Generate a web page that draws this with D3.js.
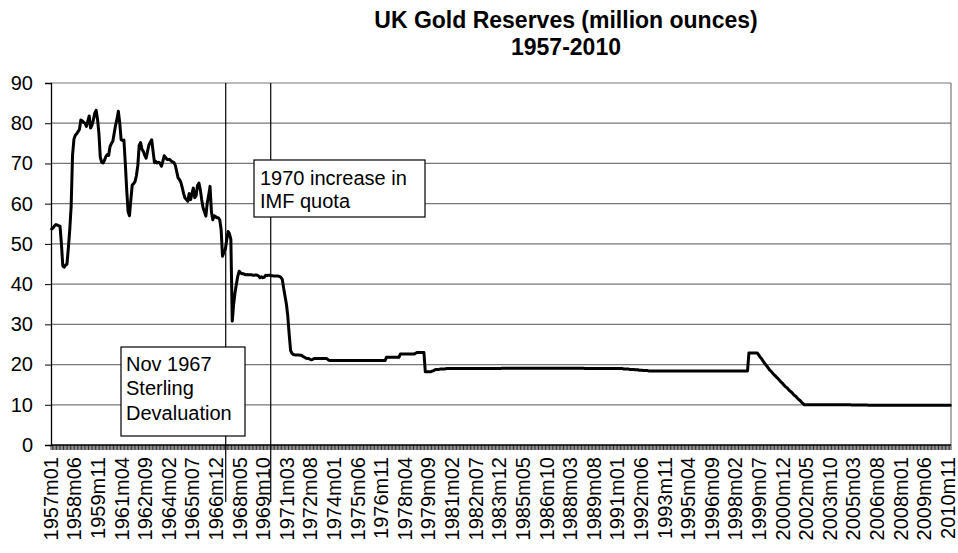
<!DOCTYPE html>
<html>
<head>
<meta charset="utf-8">
<script src="https://cdn.jsdelivr.net/npm/d3@7"></script>
<style>
  html, body { margin: 0; padding: 0; background: #fff; }
  svg { display: block; font-family: "Liberation Sans", Arial, sans-serif; }
</style>
</head>
<body>
<svg id="chart" width="958" height="553"></svg>
<script>
// ---------------- DATA ----------------
const titleLines = ["UK Gold Reserves (million ounces)", "1957-2010"];
const startYear = 1957;
// Monthly UK gold reserves (million oz), 1957m01 .. 2010m12, one row per year
const reserves = [
  53.7,54.0,54.5,54.8,54.7,54.5,54.4,50.0,44.5,44.2,44.7,45.0, // 1957
  49.0,53.5,59.3,72.0,76.0,77.0,77.4,77.9,78.5,80.8,80.6,80.2, // 1958
  80.0,79.2,80.5,81.8,78.8,79.5,80.8,82.5,83.2,81.0,77.5,71.5, // 1959
  70.3,70.1,70.8,71.7,72.2,72.0,74.2,75.0,75.5,77.5,79.5,81.0, // 1960
  83.0,80.0,75.9,75.7,75.8,70.0,63.5,58.0,57.0,61.0,64.7,65.0, // 1961
  65.5,67.0,69.5,74.5,75.2,73.5,73.0,72.0,71.3,73.0,74.6,75.3, // 1962
  75.9,73.0,70.2,70.5,70.1,70.3,70.1,69.3,70.5,71.9,71.5,71.0, // 1963
  71.0,71.0,70.6,70.4,70.2,69.5,68.0,66.4,66.0,65.3,64.0,62.5, // 1964
  61.4,61.0,60.6,62.5,61.0,62.5,63.9,61.5,62.0,64.5,65.1,63.5, // 1965
  61.0,59.0,58.0,56.9,60.2,62.0,64.3,58.0,56.0,57.0,56.8,56.5, // 1966
  56.5,56.0,53.5,46.9,48.0,48.6,51.0,53.1,52.5,51.1,30.8,35.0, // 1967
  37.9,40.0,42.0,43.2,42.8,42.6,42.6,42.4,42.3,42.4,42.3,42.3, // 1968
  42.3,42.2,42.2,42.3,42.2,42.0,41.6,41.8,41.6,41.7,42.2,42.1, // 1969
  42.2,42.2,42.1,42.1,42.0,42.0,42.0,42.0,41.9,41.7,41.2,39.0, // 1970
  37.0,35.0,32.0,27.5,23.5,22.8,22.5,22.4,22.4,22.4,22.4,22.3, // 1971
  22.3,22.0,21.8,21.6,21.5,21.5,21.3,21.2,21.3,21.5,21.5,21.5, // 1972
  21.5,21.5,21.5,21.5,21.5,21.5,21.5,21.2,21.0,21.0,21.0,21.0, // 1973
  21.0,21.0,21.0,21.0,21.0,21.0,21.0,21.0,21.0,21.0,21.0,21.0, // 1974
  21.0,21.0,21.0,21.0,21.0,21.0,21.0,21.0,21.0,21.0,21.0,21.0, // 1975
  21.0,21.0,21.0,21.0,21.0,21.0,21.0,21.0,21.0,21.0,21.0,21.0, // 1976
  21.0,21.8,21.8,21.8,21.8,21.8,21.8,21.8,21.8,21.8,21.8,22.6, // 1977
  22.6,22.6,22.6,22.6,22.6,22.6,22.6,22.6,22.6,22.6,22.8,23.0, // 1978
  23.0,23.0,23.0,23.0,23.0,18.2,18.2,18.2,18.2,18.2,18.4,18.5, // 1979
  18.7,18.8,18.8,18.8,18.9,18.9,18.9,18.9,19.0,19.0,19.0,19.0, // 1980
  19.0,19.0,19.0,19.0,19.0,19.0,19.0,19.0,19.0,19.0,19.0,19.0, // 1981
  19.0,19.0,19.0,19.0,19.0,19.0,19.0,19.0,19.0,19.0,19.0,19.0, // 1982
  19.0,19.0,19.0,19.0,19.0,19.0,19.0,19.0,19.0,19.0,19.0,19.0, // 1983
  19.1,19.1,19.1,19.1,19.1,19.1,19.1,19.1,19.1,19.1,19.1,19.1, // 1984
  19.1,19.1,19.1,19.1,19.1,19.1,19.1,19.1,19.1,19.1,19.1,19.1, // 1985
  19.1,19.1,19.1,19.1,19.1,19.1,19.1,19.1,19.1,19.1,19.1,19.1, // 1986
  19.1,19.1,19.1,19.1,19.1,19.1,19.1,19.1,19.1,19.1,19.1,19.1, // 1987
  19.1,19.1,19.1,19.1,19.1,19.1,19.1,19.1,19.1,19.1,19.1,19.1, // 1988
  19.0,19.0,19.0,19.0,19.0,19.0,19.0,19.0,19.0,19.0,19.0,19.0, // 1989
  19.0,19.0,19.0,19.0,19.0,19.0,19.0,19.0,19.0,19.0,19.0,19.0, // 1990
  19.0,19.0,19.0,19.0,18.9,18.9,18.9,18.9,18.8,18.8,18.8,18.8, // 1991
  18.7,18.7,18.7,18.6,18.6,18.6,18.5,18.5,18.5,18.5,18.4,18.4, // 1992
  18.4,18.4,18.4,18.4,18.4,18.4,18.4,18.4,18.4,18.4,18.4,18.4, // 1993
  18.4,18.4,18.4,18.4,18.4,18.4,18.4,18.4,18.4,18.4,18.4,18.4, // 1994
  18.4,18.4,18.4,18.4,18.4,18.4,18.4,18.4,18.4,18.4,18.4,18.4, // 1995
  18.4,18.4,18.4,18.4,18.4,18.4,18.4,18.4,18.4,18.4,18.4,18.4, // 1996
  18.4,18.4,18.4,18.4,18.4,18.4,18.4,18.4,18.4,18.4,18.4,18.4, // 1997
  18.4,18.4,18.4,18.4,18.4,18.4,18.4,18.4,18.4,18.4,22.9,22.9, // 1998
  22.9,22.9,22.9,22.9,22.9,22.4,21.9,21.5,21.0,20.5,20.0,19.6, // 1999
  19.1,18.6,18.3,17.9,17.5,17.2,16.8,16.5,16.1,15.7,15.4,15.0, // 2000
  14.6,14.3,14.0,13.6,13.3,13.0,12.6,12.3,12.0,11.6,11.3,11.0, // 2001
  10.6,10.3,10.0,10.0,10.0,10.0,10.0,10.0,10.0,10.0,10.0,10.0, // 2002
  10.0,10.0,10.0,10.0,10.0,10.0,10.0,10.0,10.0,10.0,10.0,10.0, // 2003
  10.0,10.0,10.0,10.0,10.0,10.0,10.0,10.0,10.0,10.0,10.0,10.0, // 2004
  9.95,9.95,9.95,9.95,9.95,9.95,9.95,9.95,9.95,9.95,9.95,9.95, // 2005
  9.9,9.9,9.9,9.9,9.9,9.9,9.9,9.9,9.9,9.9,9.9,9.9,             // 2006
  9.9,9.9,9.9,9.9,9.9,9.9,9.9,9.9,9.9,9.9,9.9,9.9,             // 2007
  9.9,9.9,9.9,9.9,9.9,9.9,9.9,9.9,9.9,9.9,9.9,9.9,             // 2008
  9.9,9.9,9.9,9.9,9.9,9.9,9.9,9.9,9.9,9.9,9.9,9.9,             // 2009
  9.9,9.9,9.9,9.9,9.9,9.9,9.9,9.9,9.9,9.9,9.9,9.9              // 2010
];
const yTicks = [0,10,20,30,40,50,60,70,80,90];
const tickLabels = ["1957m01","1958m06","1959m11","1961m04","1962m09","1964m02","1965m07",
  "1966m12","1968m05","1969m10","1971m03","1972m08","1974m01","1975m06","1976m11","1978m04",
  "1979m09","1981m02","1982m07","1983m12","1985m05","1986m10","1988m03","1989m08","1991m01",
  "1992m06","1993m11","1995m04","1996m09","1998m02","1999m07","2000m12","2002m05","2003m10",
  "2005m03","2006m08","2008m01","2009m06","2010m11"];
// annotation markers (position in months from 1957m01) and their text
const annotLines = [125.3, 157.7];
const annotTexts = [["Nov 1967","Sterling","Devaluation"], ["1970 increase in","IMF quota"]];

// ---------------- LAYOUT ----------------
const months = reserves.map((_, i) => {
  const yr = startYear + Math.floor(i / 12), m = (i % 12) + 1;
  return yr + "m" + (m < 10 ? "0" + m : m);
});
const L = 51, R = 951, T = 83, B = 445;
const svg = d3.select("#chart");
const x = d3.scaleLinear().domain([0, months.length]).range([L, R]);
const y = d3.scaleLinear().domain([0, 90]).range([B, T]);
const font = "\"Liberation Sans\", Arial, sans-serif";

// title
svg.append("text").attr("x", 566).attr("y", 28).attr("text-anchor", "middle")
  .attr("font-size", 23).attr("font-weight", "bold").text(titleLines[0]);
svg.append("text").attr("x", 566).attr("y", 55).attr("text-anchor", "middle")
  .attr("font-size", 23).attr("font-weight", "bold").text(titleLines[1]);

// gridlines
svg.append("g").selectAll("line").data(yTicks.filter(d => d > 0)).join("line")
  .attr("x1", L).attr("x2", R).attr("y1", d => y(d)).attr("y2", d => y(d))
  .attr("stroke", "#777").attr("stroke-width", 1.2);
// right border
svg.append("line").attr("x1", R).attr("x2", R).attr("y1", T).attr("y2", B)
  .attr("stroke", "#777").attr("stroke-width", 1.2);

// y axis
const yAxis = d3.axisLeft(y).tickValues(yTicks).tickSize(6).tickPadding(12);
const gy = svg.append("g").attr("transform", `translate(${L},0)`).call(yAxis);
gy.select(".domain").attr("stroke", "#000").attr("stroke-width", 1.3);
gy.selectAll(".tick line").attr("stroke", "#000");
gy.selectAll("text").attr("font-size", 20).attr("font-family", font).attr("fill", "#000");

// x axis: tick marks at every category boundary
const gx = svg.append("g");
gx.selectAll("line.tk").data(d3.range(months.length + 1)).join("line").attr("class", "tk")
  .attr("x1", d => x(d)).attr("x2", d => x(d)).attr("y1", B).attr("y2", B + 5)
  .attr("stroke", "#000").attr("stroke-width", 0.8);
gx.append("line").attr("x1", L).attr("x2", R).attr("y1", B).attr("y2", B)
  .attr("stroke", "#000").attr("stroke-width", 1.3);
gx.selectAll("text").data(tickLabels).join("text")
  .attr("transform", d => `translate(${x(months.indexOf(d) + 0.5)},457) rotate(-90)`)
  .attr("text-anchor", "end").attr("dy", "0.3em")
  .attr("font-size", 20).text(d => d);

// annotation vertical lines
svg.append("g").selectAll("line").data(annotLines).join("line")
  .attr("x1", d => x(d + 0.5)).attr("x2", d => x(d + 0.5))
  .attr("y1", T).attr("y2", 502).attr("stroke", "#000").attr("stroke-width", 1.2);

// data line
const line = d3.line().x((d, i) => x(i + 0.5)).y(d => y(d)).curve(d3.curveLinear);
svg.append("path").datum(reserves).attr("d", line)
  .attr("fill", "none").attr("stroke", "#000").attr("stroke-width", 3)
  .attr("stroke-linejoin", "round").attr("stroke-linecap", "round");

// annotation boxes
const boxes = [
  {x0: 121, y0: 347, x1: 245, y1: 436, tx: 126, ty: [371, 395, 420]},
  {x0: 254, y0: 160, x1: 425, y1: 217, tx: 260, ty: [185, 208]}
];
boxes.forEach((b, k) => {
  svg.append("rect").attr("x", b.x0).attr("y", b.y0).attr("width", b.x1 - b.x0)
    .attr("height", b.y1 - b.y0).attr("fill", "#fff").attr("stroke", "#000").attr("stroke-width", 1.2);
  annotTexts[k].forEach((t, j) => {
    svg.append("text").attr("x", b.tx).attr("y", b.ty[j]).attr("font-size", 20).text(t);
  });
});
</script>
</body>
</html>
